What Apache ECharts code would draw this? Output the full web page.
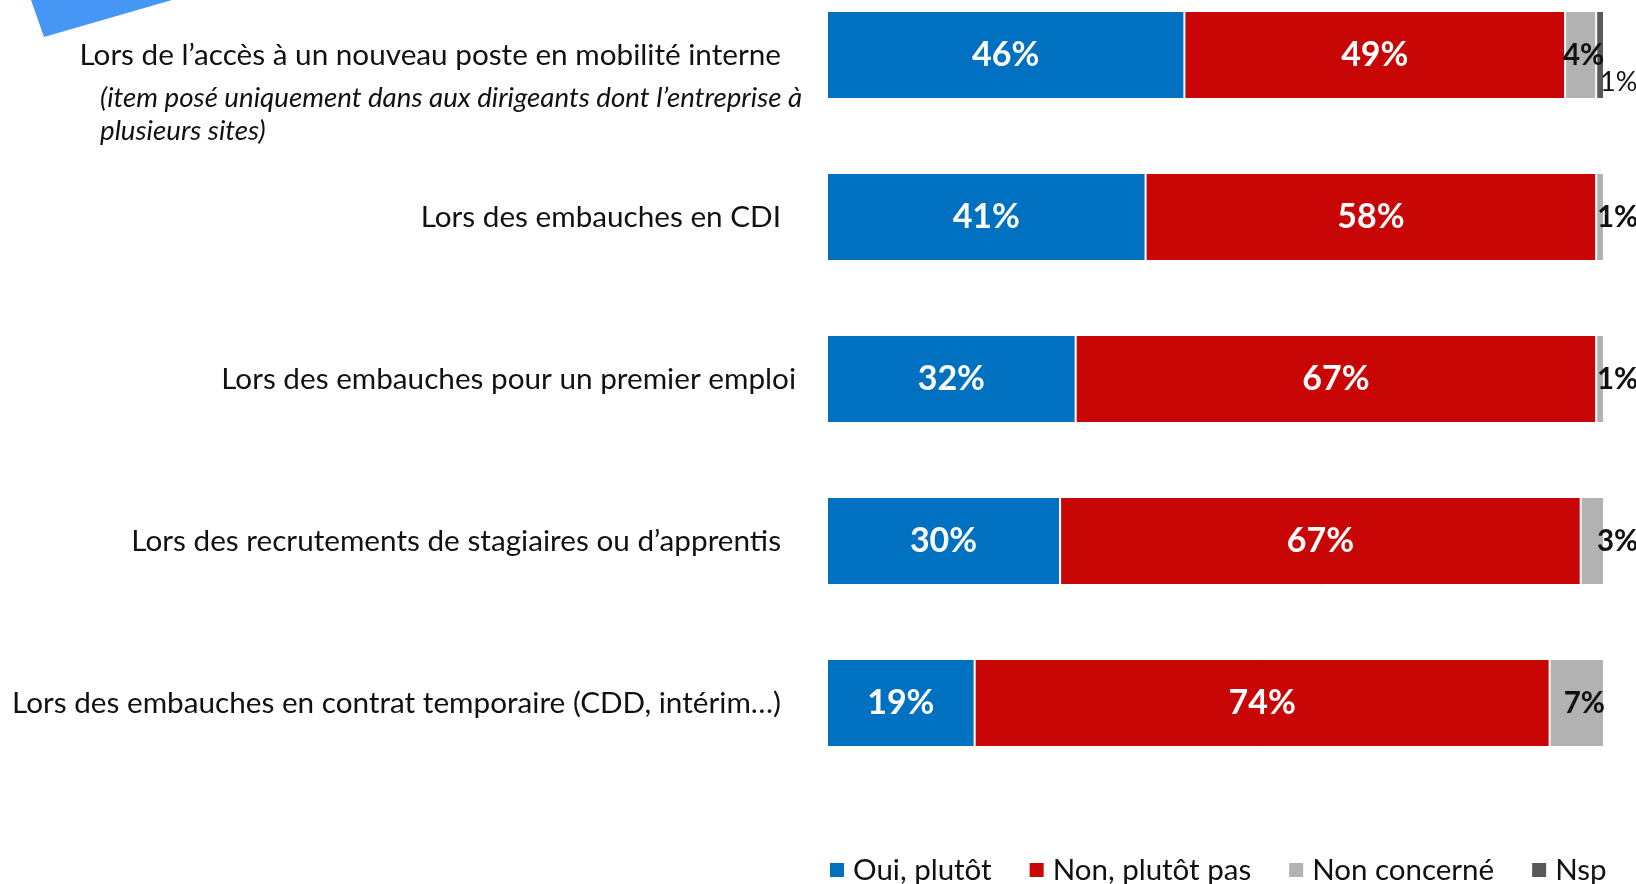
<!DOCTYPE html>
<html>
<head>
	<meta charset="utf-8">
	<title>Embauches</title>
	<script src="https://cdn.jsdelivr.net/npm/echarts@6/dist/echarts.min.js"></script>
	<style>
		html, body { margin: 0; padding: 0; background: #fff; }
		#chart { width: 1636px; height: 884px; }
	</style>
</head>
<body>
<div id="chart"></div>
<script>
	var categories = [
		'Lors de l\u2019acc\u00e8s \u00e0 un nouveau poste en mobilit\u00e9 interne',
		'Lors des embauches en CDI',
		'Lors des embauches pour un premier emploi',
		'Lors des recrutements de stagiaires ou d\u2019apprentis',
		'Lors des embauches en contrat temporaire (CDD, int\u00e9rim\u2026)'
	];
	var oui = [46, 41, 32, 30, 19];
	var non = [49, 58, 67, 67, 74];
	var nonConcerne = [4, 1, 1, 3, 7];
	var nsp = [1, 0, 0, 0, 0];
	var seriesNames = ['Oui, plut\u00f4t', 'Non, plut\u00f4t pas', 'Non concern\u00e9', 'Nsp'];
	var note = ['(item pos\u00e9 uniquement dans aux dirigeants dont l\u2019entreprise \u00e0', 'plusieurs sites)'];

	var font = 'Lato, "Open Sans", sans-serif';
	var chart = echarts.init(document.getElementById('chart'));

	function pct(p) { return p.value ? p.value + '%' : ''; }

	// grey labels: inside when the segment is wide enough, else pushed past the bar end
	var greyData = nonConcerne.map(function (v, i) {
		if (v >= 4) {
			return { value: v, label: { position: 'insideRight', distance: 0, offset: [i === 0 ? 8 : 1, 0] } };
		}
		return { value: v, label: { position: 'right', distance: 0, offset: [-7, 0] } };
	});

	var insideLabel = {
		show: true, position: 'inside', color: '#fff', fontFamily: font,
		fontWeight: 'bold', fontSize: 34, formatter: pct
	};

	chart.setOption({
		animation: false,
		textStyle: { fontFamily: font },
		grid: { left: 827, right: 32, top: 55, height: 648 },
		xAxis: { type: 'value', min: 0, max: 100, show: false },
		yAxis: {
			type: 'category', data: categories, inverse: true, boundaryGap: false,
			axisLine: { show: false }, axisTick: { show: false }, splitLine: { show: false },
			axisLabel: {
				margin: 31, color: '#111', fontSize: 29.7, fontFamily: font,
				formatter: function (v, i) { return i === 2 ? '{m|' + v + '}' : '{n|' + v + '}'; },
				rich: {
					n: { fontSize: 29.7, fontFamily: font, color: '#111', padding: [0, 15, 0, 0] },
					m: { fontSize: 29.7, fontFamily: font, color: '#111' }
				}
			}
		},
		legend: {
			data: seriesNames, left: 830, top: 855, padding: 0, icon: 'rect',
			itemWidth: 14, itemHeight: 14, itemGap: 38,
			itemStyle: { borderWidth: 0 },
			textStyle: { fontSize: 29.5, color: '#111', fontFamily: font, padding: [0, 0, 0, 4] }
		},
		graphic: [
			{ type: 'polygon', shape: { points: [[31, 0], [172, 0], [44, 37]] }, style: { fill: '#4596f5' } },
			{ type: 'text', left: 100, top: 82, style: { text: note.join('\n'), font: 'italic 27.7px ' + font, fill: '#111', lineHeight: 33 } }
		],
		series: [
			{ name: seriesNames[0], type: 'bar', stack: 'a', barWidth: 88, data: oui,
				itemStyle: { color: '#0070c0', borderColor: '#fff', borderWidth: 1 }, label: insideLabel },
			{ name: seriesNames[1], type: 'bar', stack: 'a', barWidth: 88, data: non,
				itemStyle: { color: '#c80606', borderColor: '#fff', borderWidth: 1 }, label: insideLabel },
			{ name: seriesNames[2], type: 'bar', stack: 'a', barWidth: 88, data: greyData,
				itemStyle: { color: '#b2b2b2', borderColor: '#fff', borderWidth: 1 },
				label: { show: true, color: '#111', fontFamily: font, fontWeight: 'bold', fontSize: 29.5, formatter: pct } },
			{ name: seriesNames[3], type: 'bar', stack: 'a', barWidth: 88, data: nsp,
				itemStyle: { color: '#595959', borderColor: '#fff', borderWidth: 1 },
				label: { show: true, position: 'right', distance: 0, offset: [-4, 27], color: '#111',
					fontFamily: font, fontSize: 27, formatter: pct } }
		]
	});
</script>
</body>
</html>
